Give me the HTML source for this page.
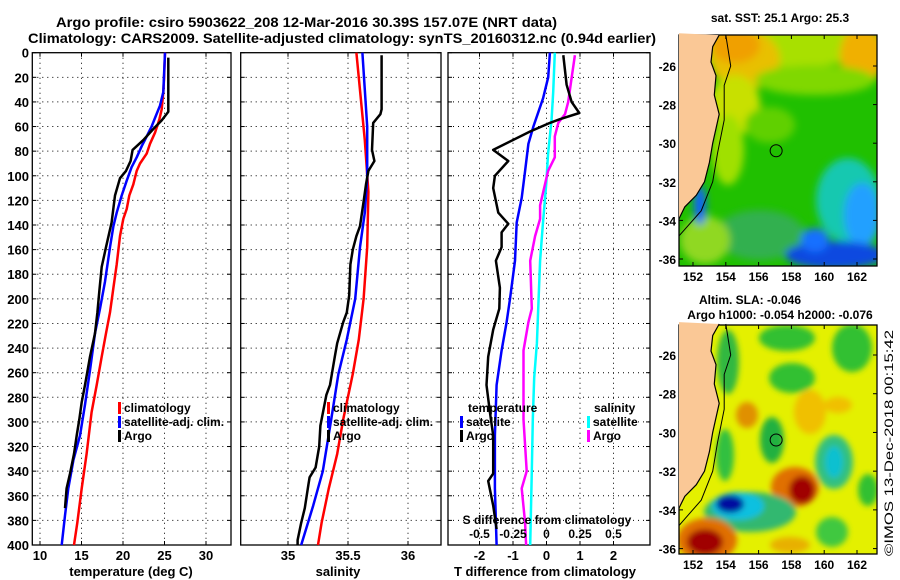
<!DOCTYPE html>
<html><head><meta charset="utf-8"><style>
html,body{margin:0;padding:0;background:#fff;width:900px;height:580px;overflow:hidden}
svg{display:block;font-family:"Liberation Sans",Arial,sans-serif;font-weight:bold}
</style></head><body>
<svg id="fig" width="900" height="580" viewBox="0 0 900 580" xmlns="http://www.w3.org/2000/svg">
<defs>
<filter id="blur6" x="-30%" y="-30%" width="160%" height="160%"><feGaussianBlur stdDeviation="4"/></filter>
<filter id="blur3" x="-30%" y="-30%" width="160%" height="160%"><feGaussianBlur stdDeviation="3"/></filter>
<clipPath id="clipSST"><rect x="679" y="35" width="198" height="231"/></clipPath>
<clipPath id="clipSLA"><rect x="679" y="325" width="198" height="229"/></clipPath>
</defs>
<text x="56" y="27" font-size="14" textLength="501" lengthAdjust="spacingAndGlyphs">Argo profile: csiro 5903622_208 12-Mar-2016 30.39S 157.07E (NRT data)</text>
<text x="28" y="43" font-size="14" textLength="628" lengthAdjust="spacingAndGlyphs">Climatology: CARS2009. Satellite-adjusted climatology: synTS_20160312.nc (0.94d earlier)</text>
<g id="g1"></g>
<g id="g2"></g>
<g id="g3"></g>
<g id="maps"></g>
<text transform="translate(893,556) rotate(-90)" font-size="12" font-weight="normal" textLength="226" lengthAdjust="spacingAndGlyphs">©IMOS 13-Dec-2018 00:15:42</text>
</svg>
<script>
// ---------- data ----------
const tDepthClim=[0,20,32,46,54,65,74,82,90,96,107,116,127,135,149,172,191,211,228,247,270,292,326,354,382,400];
const tClim=[25.06,24.95,24.86,24.66,24.38,23.86,23.25,22.85,22.05,21.65,21.24,20.76,20.44,20.04,19.64,19.24,18.84,18.43,17.95,17.43,16.83,16.22,15.62,15.02,14.5,14.1];
const tDepthSat=[0,32,43,51,60,68,76,85,93,104,116,130,141,158,186,208,228,258,286,311,331,354,376,400];
const tSat=[25.06,24.86,24.46,23.98,23.45,22.85,22.25,21.65,21.04,20.44,19.84,19.24,18.84,18.43,17.83,17.23,16.63,16.02,15.42,14.82,14.02,13.41,13.01,12.61];
const tDepthArgo=[4,48,55,62,71,79,88,96,102,116,138,158,174,194,211,228,247,270,284,298,311,326,342,354,370];
const tArgo=[25.46,25.46,24.66,23.65,22.45,21.16,20.92,20.36,19.64,19.04,18.63,17.95,17.43,17.15,16.91,16.63,16.02,15.42,15.02,14.74,14.42,14.1,13.61,13.21,13.01];

const sDepthClim=[0,71,113,158,200,233,261,298,326,354,382,400];
const sClim=[35.57,35.64,35.67,35.66,35.63,35.59,35.54,35.46,35.41,35.34,35.28,35.25];
const sDepthSat=[0,60,102,130,158,200,233,261,298,340,368,400];
const sSat=[35.62,35.66,35.66,35.64,35.60,35.56,35.49,35.42,35.36,35.29,35.21,35.11];
const sDepthArgo=[2,46,50,57,79,88,96,107,121,141,149,160,172,197,211,219,236,247,270,278,303,320,337,345,351,370,382,396,400];
const sArgo=[35.78,35.78,35.77,35.71,35.70,35.72,35.67,35.65,35.63,35.60,35.57,35.54,35.52,35.51,35.49,35.46,35.41,35.39,35.35,35.32,35.27,35.26,35.23,35.18,35.17,35.14,35.11,35.08,35.08];

const dDepthTSat=[0,20,37,60,74,96,118,138,169,200,219,242,270,311,354,400];
const dTSat=[0.1,0.05,-0.1,-0.39,-0.54,-0.64,-0.74,-0.89,-0.94,-1.09,-1.19,-1.34,-1.49,-1.54,-1.54,-1.49];
const dDepthTArgo=[2,26,40,49,54,57,64,79,88,100,110,130,139,146,158,169,191,208,225,247,270,292,311,342,348,368,387];
const dTArgo=[0.5,0.6,0.75,0.98,0.4,0.1,-0.49,-1.59,-1.14,-1.54,-1.59,-1.44,-1.14,-1.34,-1.34,-1.51,-1.39,-1.41,-1.59,-1.74,-1.79,-1.69,-1.59,-1.59,-1.74,-1.59,-1.49];
const dDepthSSat=[0,32,54,82,107,141,169,202,236,264,298,340,400];
const dSSat=[0.062,0.05,0.038,0.012,-0.002,-0.028,-0.048,-0.06,-0.072,-0.092,-0.102,-0.11,-0.122];
const dDepthSArgo=[2,20,40,50,57,68,85,96,124,135,149,169,208,219,242,270,298,340,354,382,400];
const dSArgo=[0.212,0.188,0.162,0.138,0.088,0.062,0.062,0.012,-0.048,-0.048,-0.085,-0.122,-0.11,-0.135,-0.172,-0.172,-0.172,-0.148,-0.185,-0.16,-0.152];

const depthTicks=[0,20,40,60,80,100,120,140,160,180,200,220,240,260,280,300,320,340,360,380,400];
const tTicks=[10,15,20,25,30];
const sTicks=[35,35.5,36];
const dTTicks=[-2,-1,0,1,2];
const dSTicks=[-0.5,-0.25,0,0.25,0.5];
const dSTickLabels=["-0.5","-0.25","0","0.25","0.5"];

// ---------- helpers ----------
const NS="http://www.w3.org/2000/svg";
function mk(parent,tag,attrs){const e=document.createElementNS(NS,tag);for(const k in attrs)e.setAttribute(k,attrs[k]);parent.appendChild(e);return e;}
const Y0=52.7,Y1=545;
function yD(d){return Y0+(Y1-Y0)*d/400;}
function linX(v0,p0,v1,p1){return v=>p0+(v-v0)*(p1-p0)/(v1-v0);}

function frame(g,x0,x1,name,xScale,ticks,labels,showY){
  depthTicks.forEach(d=>{if(d>0&&d<400){const l=mk(g,'line',{x1:x0,x2:x1,y1:yD(d),y2:yD(d),stroke:'#000','stroke-width':1,'stroke-dasharray':'1,4'});
    
    }
    mk(g,'line',{x1:x0,x2:x0+4,y1:yD(d),y2:yD(d),stroke:'#000'});
    mk(g,'line',{x1:x1-4,x2:x1,y1:yD(d),y2:yD(d),stroke:'#000'});
    if(showY){const t=mk(g,'text',{x:29,y:yD(d)+5,'text-anchor':'end','font-size':13});t.textContent=d;
      
      }
  });
  ticks.forEach((v,i)=>{const x=xScale(v);
    const l=mk(g,'line',{x1:x,x2:x,y1:Y0,y2:Y1,stroke:'#000','stroke-dasharray':'1,4'});
    
    
    mk(g,'line',{x1:x,x2:x,y1:Y1-4,y2:Y1,stroke:'#000'});mk(g,'line',{x1:x,x2:x,y1:Y0,y2:Y0+4,stroke:'#000'});
    if(labels){const t=mk(g,'text',{x:x,y:560,'text-anchor':'middle','font-size':13});t.textContent=labels[i];
      
      }
  });
  const r=mk(g,'rect',{x:x0,y:Y0,width:x1-x0,height:Y1-Y0,fill:'none',stroke:'#000','stroke-width':1.3});
  
  
}
function series(g,xs,ds,xScale,color,w,name){
  const pts=xs.map((v,i)=>xScale(v).toFixed(1)+','+yD(ds[i]).toFixed(1)).join(' ');
  const p=mk(g,'polyline',{points:pts,fill:'none',stroke:color,'stroke-width':w,'stroke-linejoin':'round'});
  
  
}
function legendItem(g,x,y,color,label,name){
  mk(g,'rect',{x:x,y:y-10,width:3,height:12,fill:color});
  const t=mk(g,'text',{x:x+6,y:y,'font-size':12});t.textContent=label;
  
  
}
function txt(g,x,y,s,size,anchor,name){const t=mk(g,'text',{x:x,y:y,'font-size':size,'text-anchor':anchor||'start'});t.textContent=s;
  
  return t;}

// ---------- panel 1 ----------
const g1=document.getElementById('g1');
const xT=linX(10,40,30,206);
frame(g1,32.3,231,'temperature',xT,tTicks,tTicks.map(String),true);
series(g1,tClim,tDepthClim,xT,'#ff0000',2.5,'climatology-temperature-line');
series(g1,tSat,tDepthSat,xT,'#0000ff',2.5,'satellite-temperature-line');
series(g1,tArgo,tDepthArgo,xT,'#000000',2.5,'argo-temperature-line');
legendItem(g1,118,412,'#ff0000','climatology','legend-climatology');
legendItem(g1,118,426,'#0000ff','satellite-adj. clim.','legend-satellite');
legendItem(g1,118,440,'#000000','Argo','legend-argo');
txt(g1,131,576,'temperature (deg C)',13,'middle','temperature-axis-title');

// ---------- panel 2 ----------
const g2=document.getElementById('g2');
const xS=linX(35,288,36,408);
frame(g2,240.7,441,'salinity',xS,sTicks,["35","35.5","36"],false);
series(g2,sClim,sDepthClim,xS,'#ff0000',2.5,'climatology-salinity-line');
series(g2,sSat,sDepthSat,xS,'#0000ff',2.5,'satellite-salinity-line');
series(g2,sArgo,sDepthArgo,xS,'#000000',2.5,'argo-salinity-line');
legendItem(g2,327,412,'#ff0000','climatology','legend-climatology-s');
legendItem(g2,327,426,'#0000ff','satellite-adj. clim.','legend-satellite-s');
legendItem(g2,327,440,'#000000','Argo','legend-argo-s');
txt(g2,338,576,'salinity',13,'middle','salinity-axis-title');

// ---------- panel 3 ----------
const g3=document.getElementById('g3');
const xdT=linX(0,546.5,1,580);
const xdS=v=>xdT(v*4);
frame(g3,448,650,'difference',xdT,dTTicks,dTTicks.map(String),false);
series(g3,dSSat,dDepthSSat,xdS,'#00ffff',2.5,'satellite-salinity-diff-line');
series(g3,dSArgo,dDepthSArgo,xdS,'#ff00ff',2.5,'argo-salinity-diff-line');
series(g3,dTSat,dDepthTSat,xdT,'#0000ff',2.5,'satellite-temperature-diff-line');
series(g3,dTArgo,dDepthTArgo,xdT,'#000000',2.5,'argo-temperature-diff-line');
txt(g3,468,412,'temperature',12,'start','legend-temperature-heading');
legendItem(g3,460,426,'#0000ff','satellite','legend-t-satellite');
legendItem(g3,460,440,'#000000','Argo','legend-t-argo');
txt(g3,594,412,'salinity',12,'start','legend-salinity-heading');
legendItem(g3,587,426,'#00ffff','satellite','legend-s-satellite');
legendItem(g3,587,440,'#ff00ff','Argo','legend-s-argo');
txt(g3,547,524,'S difference from climatology',12,'middle','s-axis-title');
dSTicks.forEach((v,i)=>{txt(g3,xdS(v),538,dSTickLabels[i],12,'middle','s-tick-label');});
txt(g3,545,576,'T difference from climatology',13,'middle','t-axis-title');

// ---------- maps ----------
const gm=document.getElementById('maps');
const lonX=linX(152,693,162,857);
function mapAxes(top,bot,latTop,latBot,name){
  const latY=linX(-26,latTop,-36,latBot);
  [-26,-28,-30,-32,-34,-36].forEach(l=>{const y=latY(l);
    mk(gm,'line',{x1:679,x2:683,y1:y,y2:y,stroke:'#000'});mk(gm,'line',{x1:873,x2:877,y1:y,y2:y,stroke:'#000'});
    txt(gm,676,y+5,String(l),12,'end','lat-tick-label');});
  [152,154,156,158,160,162].forEach(l=>{const x=lonX(l);
    mk(gm,'line',{x1:x,x2:x,y1:top,y2:top+4,stroke:'#000'});mk(gm,'line',{x1:x,x2:x,y1:bot-4,y2:bot,stroke:'#000'});
    txt(gm,x,bot+15,String(l),12,'middle','lon-tick-label');});
  const r=mk(gm,'rect',{x:679,y:top,width:198,height:bot-top,fill:'none',stroke:'#000','stroke-width':1.3});
  
  
  return latY;
}
const coast=[[153.6,-24.4],[153.2,-25],[153.1,-25.8],[153.4,-26.5],[153.3,-27.5],[153.6,-28.5],[153.2,-30],[153.0,-31],[152.7,-32],[152.2,-32.7],[151.5,-33.3],[151.15,-33.9]];
const iso=[[154.0,-24.4],[154.3,-26],[153.9,-27],[153.9,-28.8],[153.5,-30.5],[153.2,-32],[152.5,-33.5],[151.15,-34.8]];
function coastDraw(latY,name){
  const c=coast.map(p=>lonX(p[0]).toFixed(1)+','+latY(p[1]).toFixed(1));
  const land=mk(gm,'polygon',{points:'679,'+latY(-24.3)+' '+c.join(' ')+' 679,'+latY(coast[coast.length-1][1]),fill:'#fac896'});
  
  
  mk(gm,'polyline',{points:c.join(' '),fill:'none',stroke:'#000','stroke-width':1.2});
  mk(gm,'polyline',{points:iso.map(p=>lonX(p[0]).toFixed(1)+','+latY(p[1]).toFixed(1)).join(' '),fill:'none',stroke:'#000','stroke-width':1});
  mk(gm,'circle',{cx:lonX(157.07),cy:latY(-30.39),r:6,fill:'none',stroke:'#000','stroke-width':1});
}
// SST map
txt(gm,780,22,'sat. SST: 25.1  Argo: 25.3',12,'middle','sst-map-title');
const gs=mk(gm,'g',{'clip-path':'url(#clipSST)'});


mk(gs,'rect',{x:679,y:35,width:198,height:231,fill:'#20c000'});
const gsb=mk(gs,'g',{filter:'url(#blur6)'});
const sstBlobs=[[780,45,110,22,'#a8e000'],[745,60,35,30,'#e8c000'],[735,45,25,18,'#f0a000'],[862,55,22,30,'#f0b000'],[815,80,60,15,'#80d800'],[735,105,25,30,'#c8e000'],[728,150,16,35,'#a0e000'],[770,125,25,18,'#60d000'],
 [760,235,45,25,'#30b050'],[848,200,32,42,'#18c8b0'],[862,215,18,32,'#20a0ff'],[835,255,50,14,'#0848e0'],[815,240,14,12,'#1870ff'],[705,240,25,24,'#90d820'],[700,205,6,20,'#1060ff']];
sstBlobs.forEach(b=>{const e=mk(gsb,'ellipse',{cx:b[0],cy:b[1],rx:b[2],ry:b[3],fill:b[4]});
  
  });
const sstLat=mapAxes(35,266,66,259,'sst-map');
coastDraw(sstLat,'sst');
// SLA map
txt(gm,750,304,'Altim. SLA: -0.046',12,'middle','sla-map-title');
txt(gm,780,319,'Argo h1000: -0.054 h2000: -0.076',12,'middle','sla-map-subtitle');
const ga=mk(gm,'g',{'clip-path':'url(#clipSLA)'});


mk(ga,'rect',{x:679,y:325,width:198,height:229,fill:'#e4f000'});
const gab=mk(ga,'g',{filter:'url(#blur3)'});
const blobs=[[787,338,28,13,'#30c030'],[852,348,20,24,'#30c030'],[792,378,23,15,'#30c030'],[728,362,11,32,'#30b840'],
 [747,415,11,13,'#e09000'],[810,412,16,22,'#f0c000'],[838,405,14,8,'#f0c000'],
 [772,440,12,23,'#20b040'],[725,455,9,26,'#30c040'],[834,462,19,27,'#30c080'],[834,462,9,16,'#10c0d0'],
 [795,487,24,20,'#e07000'],[802,490,13,14,'#a00000'],
 [750,512,46,20,'#30b870'],[738,506,26,14,'#10c0e0'],[730,504,14,9,'#0010a0'],
 [707,540,30,22,'#e07000'],[705,542,18,13,'#a00000'],[868,490,10,16,'#30c030'],[832,532,16,15,'#40c840'],[790,545,20,8,'#e8b000']];
blobs.forEach(b=>{const e=mk(gab,'ellipse',{cx:b[0],cy:b[1],rx:b[2],ry:b[3],fill:b[4]});
  
  });
const slaLat=mapAxes(325,554,355,548.6,'sla-map');
coastDraw(slaLat,'sla');
</script>
</body></html>
